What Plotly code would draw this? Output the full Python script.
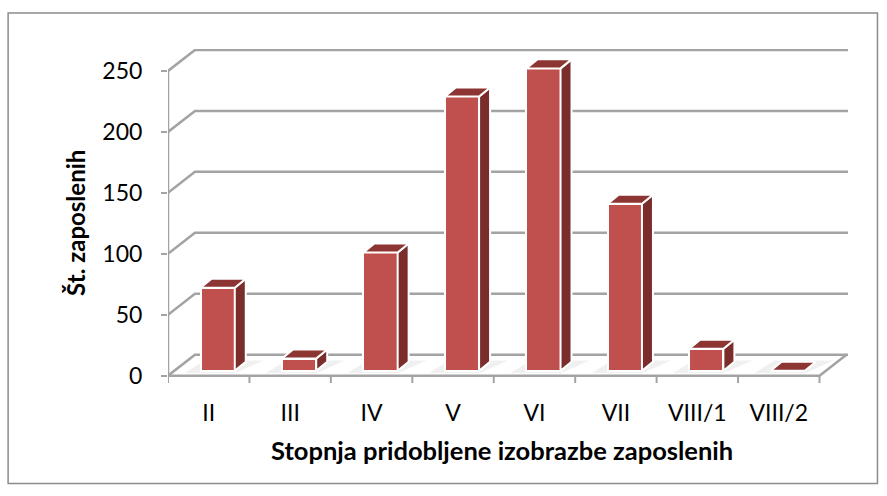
import plotly.graph_objects as go

# ---------------- data ----------------
categories = ["II", "III", "IV", "V", "VI", "VII", "VIII/1", "VIII/2"]
values = [68, 10, 97, 225, 248, 137, 18, 0]
y_ticks = [0, 50, 100, 150, 200, 250]
x_title = "Stopnja pridobljene izobrazbe zaposlenih"
y_title = "Št. zaposlenih"

# ---------------- geometry / style ----------------
W, H = 887, 496
ML, MR, MT, MB = 168, 38.5, 49, 112.7
X_RANGE = [-0.5, 7.85]
Y_RANGE = [-6, 268]
DX, DY = 0.331, 17.2          # floor depth (in axis units)
BDX, BDY = 0.11, 4.1          # bar front offset into the depth
DDX, DDY = 0.135, 7.4         # bar depth
HW = 0.21                     # half bar width
GRID = "#a3a3a3"
FRONT = "#c0504d"
SIDE = "#7a2d2b"
TOP = "#8c3532"
FONT = "Lato"

n = len(categories)
x_left = -0.5
x_right = n - 0.5
x_end = X_RANGE[1]

shapes = []
pw = W - ML - MR
ph = H - MT - MB
# outer chart border (paper coordinates)
shapes.append(dict(type="rect", xref="paper", yref="paper", layer="below",
                   x0=(8 - ML) / pw, x1=(878 - ML) / pw,
                   y0=(H - MB - 484) / ph, y1=(H - MB - 13) / ph,
                   line=dict(color="#8c8c8c", width=1.5), fillcolor="rgba(0,0,0,0)"))

# soft shadows on floor
for i, v in enumerate(values):
    x0 = i + BDX - HW
    x1 = i + BDX + HW
    shapes.append(dict(type="path", xref="x", yref="y", layer="below",
                       path=(f"M {x0-0.2},{BDY-2} L {x1},{BDY-2} "
                             f"L {x1+DDX+0.22},{BDY+DDY+1} L {x0+0.05},{BDY+DDY+1} Z"),
                       fillcolor="rgba(130,130,130,0.12)", line=dict(width=0)))

# grid lines (front diagonal + back wall line)
for v in y_ticks:
    shapes.append(dict(type="path", xref="x", yref="y", layer="below",
                       path=f"M {x_left},{v} L {x_left+DX},{v+DY} L {x_end},{v+DY}",
                       line=dict(color=GRID, width=2.5)))
# floor front edge and right edge
shapes.append(dict(type="path", xref="x", yref="y", layer="below",
                   path=f"M {x_left},0 L {x_right},0 L {x_right+DX},{DY}",
                   line=dict(color=GRID, width=2.5)))
# value axis line
shapes.append(dict(type="line", xref="x", yref="y", layer="below",
                   x0=x_left, x1=x_left, y0=0, y1=y_ticks[-1],
                   line=dict(color=GRID, width=2.5)))
# category boundary ticks
for b in range(n + 1):
    shapes.append(dict(type="line", xref="x", yref="y", layer="below",
                       x0=b - 0.5, x1=b - 0.5, y0=0, y1=-6,
                       line=dict(color=GRID, width=2)))

fig = go.Figure()

# front faces
fig.add_trace(go.Bar(
    x=[i + BDX for i in range(n)], y=values, base=BDY, width=2 * HW,
    marker=dict(color=FRONT, line=dict(color="white", width=2)),
    hoverinfo="skip", showlegend=False))

# side and top faces
sx, sy, tx, ty = [], [], [], []
for i, v in enumerate(values):
    x0 = i + BDX - HW
    x1 = i + BDX + HW
    sx += [x1, x1 + DDX, x1 + DDX, x1, x1, None]
    sy += [BDY, BDY + DDY, BDY + DDY + v, BDY + v, BDY, None]
    tx += [x0, x1, x1 + DDX, x0 + DDX, x0, None]
    ty += [BDY + v, BDY + v, BDY + v + DDY, BDY + v + DDY, BDY + v, None]

fig.add_trace(go.Scatter(x=sx, y=sy, mode="lines", fill="toself", fillcolor=SIDE,
                         line=dict(color="white", width=2), hoverinfo="skip",
                         showlegend=False))
fig.add_trace(go.Scatter(x=tx, y=ty, mode="lines", fill="toself", fillcolor=TOP,
                         line=dict(color="white", width=2), hoverinfo="skip",
                         showlegend=False))

annotations = [
    dict(text=x_title, xref="paper", yref="paper",
         x=(502 - ML) / pw, y=(H - MB - 450) / ph, showarrow=False,
         xanchor="center", yanchor="middle",
         font=dict(family=FONT, size=25.5, color="black", weight="bold")),
    dict(text=y_title, xref="paper", yref="paper", textangle=-90,
         x=(76 - ML) / pw, y=(H - MB - 223) / ph, showarrow=False,
         xanchor="center", yanchor="middle",
         font=dict(family=FONT, size=24, color="black", weight="bold")),
]

fig.update_layout(
    width=W, height=H,
    margin=dict(l=ML, r=MR, t=MT, b=MB, pad=0),
    paper_bgcolor="white", plot_bgcolor="white",
    shapes=shapes, annotations=annotations,
    bargap=0,
    xaxis=dict(range=X_RANGE, tickvals=list(range(n)), ticktext=categories,
               showgrid=False, zeroline=False, showline=False, ticks="",
               tickfont=dict(family=FONT, size=23, color="black"),
               ticklabelstandoff=14, fixedrange=True),
    yaxis=dict(range=Y_RANGE, tickvals=y_ticks, showgrid=False, zeroline=False,
               showline=False, ticks="outside", ticklen=6, tickwidth=2,
               tickcolor=GRID, tickfont=dict(family=FONT, size=23, color="black"),
               ticklabelstandoff=14, fixedrange=True),
)

fig.write_html("out.html", config={"displayModeBar": False},
               post_script="document.body.style.margin='0';document.body.style.padding='0';")
